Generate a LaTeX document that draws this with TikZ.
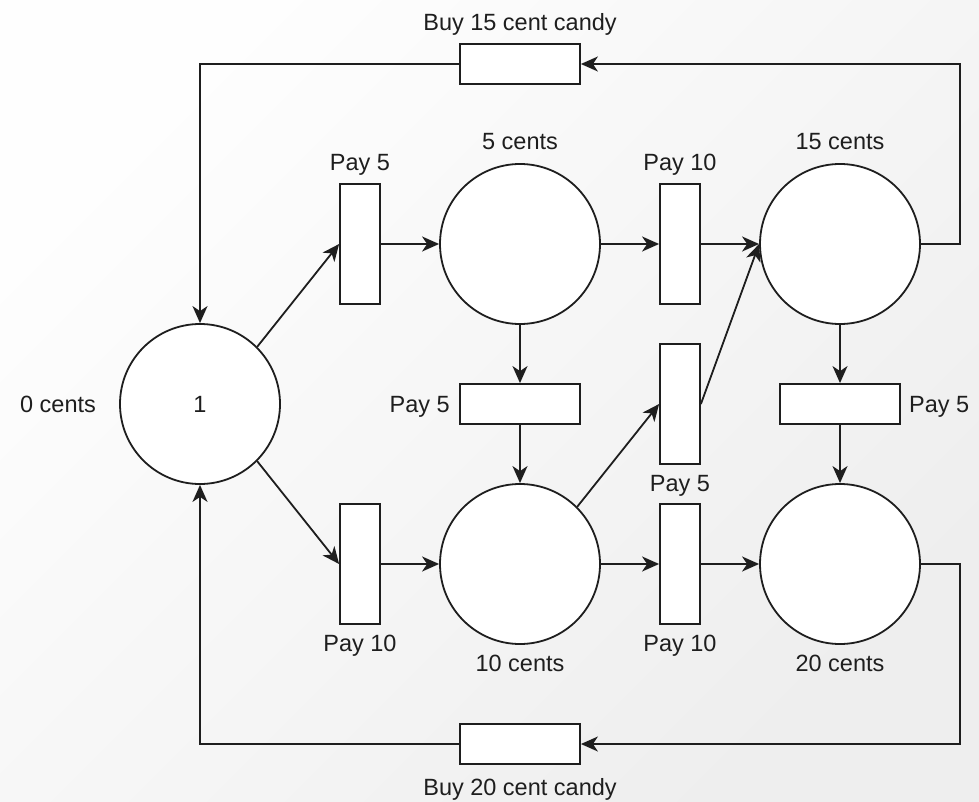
\documentclass[tikz,border=0pt]{standalone}
\usepackage{fontspec}
\setmainfont{Liberation Sans}
\usetikzlibrary{arrows.meta}
\definecolor{bgA}{RGB}{254,254,254}
\definecolor{bgB}{RGB}{238,238,238}
\definecolor{ink}{RGB}{30,30,30}
\begin{document}
\begin{tikzpicture}[x=1pt,y=-1pt,
  place/.style={circle, draw=ink, fill=white, line width=1.8pt, minimum size=160pt, inner sep=0pt, font=\fontsize{23.5}{27}\selectfont, text=ink},
  hbar/.style={rectangle, draw=ink, fill=white, line width=1.8pt, minimum width=120pt, minimum height=40pt, inner sep=0pt},
  vbar/.style={rectangle, draw=ink, fill=white, line width=1.8pt, minimum width=40pt, minimum height=120pt, inner sep=0pt},
  lbl/.style={font=\fontsize{23.5}{27}\selectfont, text=ink, inner sep=0pt, anchor=base},
  arc/.style={-{Stealth[length=17pt,width=15pt,inset=5pt]}, line width=1.8pt, draw=ink},
  plain/.style={line width=1.8pt, draw=ink}]
\useasboundingbox (0,0) rectangle (979,802);
\shade[top color=bgA, bottom color=bgB, shading angle=45] (0,0) rectangle (979,802);

% places
\node[place] (c0) at (200,404) {1};
\node[place] (c5) at (520,244) {};
\node[place] (c15) at (840,244) {};
\node[place] (c10) at (520,564) {};
\node[place] (c20) at (840,564) {};

% transitions
\node[vbar] (tA) at (360,244) {};
\node[vbar] (tB) at (360,564) {};
\node[vbar] (tC) at (680,244) {};
\node[vbar] (tD) at (680,404) {};
\node[vbar] (tE) at (680,564) {};
\node[hbar] (tF) at (520,404) {};
\node[hbar] (tG) at (840,404) {};
\node[hbar] (tH) at (520,64) {};
\node[hbar] (tI) at (520,744) {};

% corner points
\coordinate (k1) at (960,244);
\coordinate (k2) at (960,64);
\coordinate (k3) at (200,64);
\coordinate (k4) at (960,564);
\coordinate (k5) at (960,744);
\coordinate (k6) at (200,744);

% labels
\node[lbl] (l1) at (520,31) {Buy 15 cent candy};
\node[lbl] (l2) at (520,150) {5 cents};
\node[lbl] (l3) at (840,150) {15 cents};
\node[lbl] (l4) at (360,171) {Pay 5};
\node[lbl] (l5) at (680,171) {Pay 10};
\node[lbl] (l6) at (58,412) {0 cents};
\node[lbl, anchor=base east] (l7) at (450,412) {Pay 5};
\node[lbl, anchor=base west] (l8) at (909,412) {Pay 5};
\node[lbl] (l9) at (680,491) {Pay 5};
\node[lbl] (l10) at (360,651) {Pay 10};
\node[lbl] (l11) at (680,651) {Pay 10};
\node[lbl] (l12) at (520,671) {10 cents};
\node[lbl] (l13) at (840,671) {20 cents};
\node[lbl] (l14) at (520,795) {Buy 20 cent candy};

% arcs
\draw[arc] (c0.45) -- (tA.west);
\draw[arc] (c0.-45) -- (tB.west);
\draw[arc] (tA) -- (c5);
\draw[arc] (tB) -- (c10);
\draw[arc] (c5) -- (tC);
\draw[arc] (tC) -- (c15);
\draw[arc] (c10) -- (tE);
\draw[arc] (tE) -- (c20);
\draw[arc] (c5) -- (tF);
\draw[arc] (tF) -- (c10);
\draw[arc] (c15) -- (tG);
\draw[arc] (tG) -- (c20);
\draw[arc] (c10.45) -- (tD.west);
\draw[arc] (tD.east) -- (c15.west);
\draw[arc] (c15.east) -- (k1) -- (k2) -- (tH.east);
\draw[arc] (tH.west) -- (k3) -- (c0.north);
\draw[arc] (c20.east) -- (k4) -- (k5) -- (tI.east);
\draw[arc] (tI.west) -- (k6) -- (c0.south);
\end{tikzpicture}
\end{document}
